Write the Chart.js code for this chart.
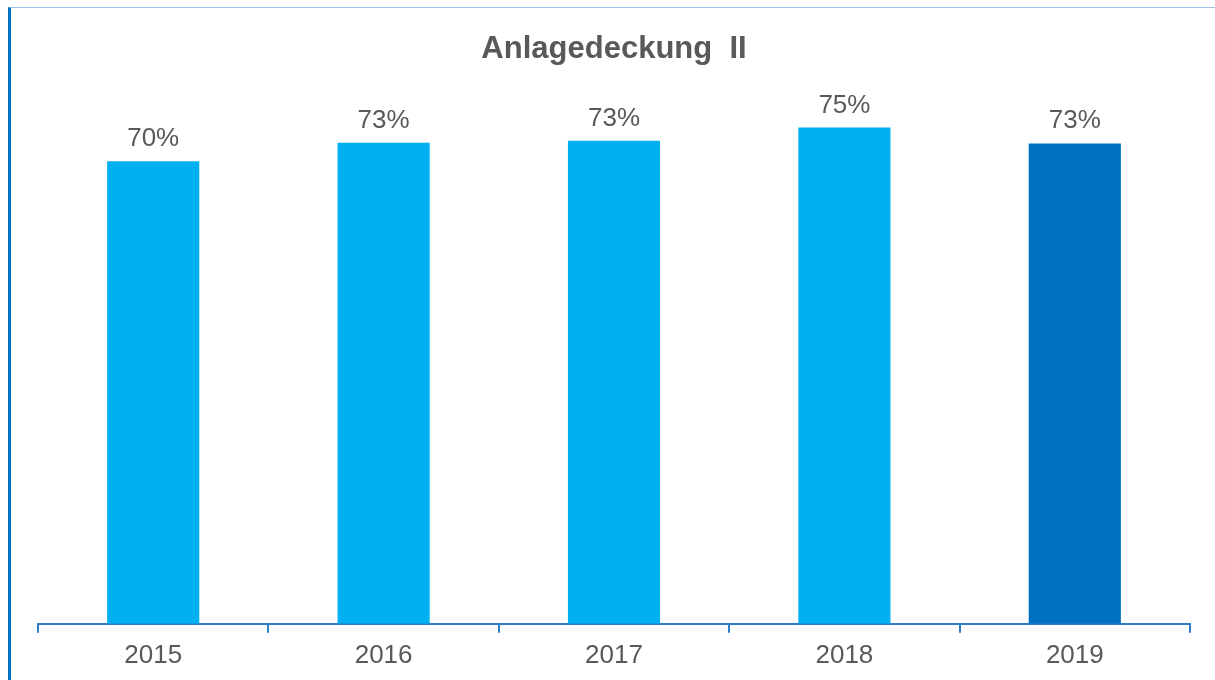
<!DOCTYPE html>
<html>
<head>
<meta charset="utf-8">
<script src="https://cdn.jsdelivr.net/npm/chart.js@4"></script>
<style>
  html, body { margin: 0; padding: 0; background: #fff; }
  #wrap { position: relative; width: 1215px; height: 680px; }
  #frame {
    position: absolute; left: 8px; top: 7px; right: 0; bottom: 0;
    border-left: 3px solid #0070C0; border-top: 1px solid #9DC3E6;
    pointer-events: none;
  }
</style>
</head>
<body>
<div id="wrap">
  <canvas id="chart" width="1215" height="680"></canvas>
  <div id="frame"></div>
</div>
<script>
const years = ['2015', '2016', '2017', '2018', '2019'];
const coverage = [70.0, 72.8, 73.1, 75.1, 72.7];
const barColors = ['#00B0F0', '#00B0F0', '#00B0F0', '#00B0F0', '#0070C0'];

const FONT = '"Liberation Sans", Arial, sans-serif';
const TEXT = '#595959';
const AXIS = '#2E7BC8';

// Werte über den Balken
const valueLabels = {
  id: 'valueLabels',
  afterDatasetsDraw(chart) {
    const ctx = chart.ctx;
    const meta = chart.getDatasetMeta(0);
    ctx.save();
    ctx.font = '26px ' + FONT;
    ctx.fillStyle = TEXT;
    ctx.textAlign = 'center';
    ctx.textBaseline = 'alphabetic';
    meta.data.forEach((bar, i) => {
      ctx.fillText(Math.round(coverage[i]) + '%', bar.x, bar.y - 15);
    });
    ctx.restore();
  }
};

new Chart(document.getElementById('chart').getContext('2d'), {
  type: 'bar',
  data: {
    labels: years,
    datasets: [{
      data: coverage,
      backgroundColor: barColors,
      categoryPercentage: 1,
      barPercentage: 0.4
    }]
  },
  options: {
    responsive: false,
    animation: false,
    layout: { padding: { left: 38, right: 25, top: 0, bottom: 2 } },
    plugins: {
      legend: { display: false },
      tooltip: { enabled: false },
      title: {
        display: true,
        text: 'Anlagedeckung  II',
        color: TEXT,
        font: { family: FONT, size: 31, weight: 'bold' },
        padding: { top: 31, bottom: 27 }
      }
    },
    scales: {
      x: {
        grid: {
          offset: true,
          drawOnChartArea: false,
          drawTicks: true,
          tickLength: 9,
          color: AXIS,
          lineWidth: 2
        },
        border: { color: AXIS, width: 2 },
        ticks: {
          color: TEXT,
          font: { family: FONT, size: 26 },
          padding: 7
        }
      },
      y: {
        display: false,
        min: 0,
        max: 80
      }
    }
  },
  plugins: [valueLabels]
});
</script>
</body>
</html>
